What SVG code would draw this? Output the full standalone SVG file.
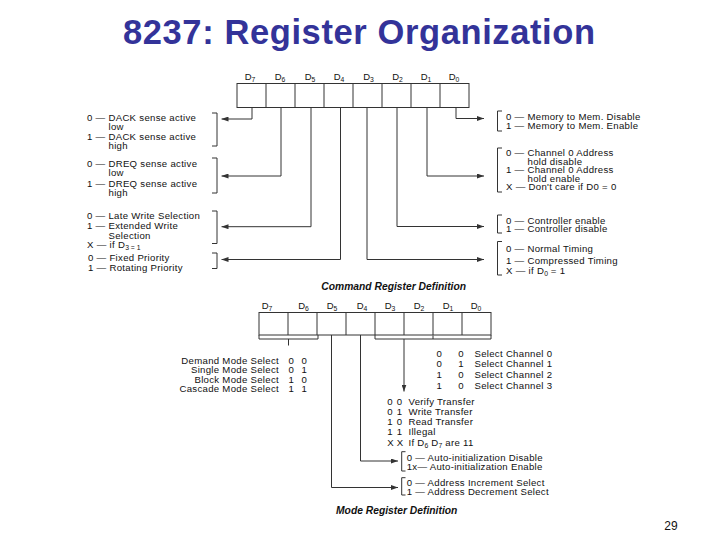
<svg xmlns="http://www.w3.org/2000/svg" width="720" height="540" viewBox="0 0 720 540">
<style>
.t{font-family:"Liberation Sans",Arial,Helvetica,sans-serif;font-size:9.6px;letter-spacing:0.3px;fill:#111}
.lab{font-family:"Liberation Sans",Arial,Helvetica,sans-serif;font-size:9.5px;fill:#111;text-anchor:middle}
.sub{font-size:6.8px;letter-spacing:0}
.cap{font-family:"Liberation Sans",Arial,Helvetica,sans-serif;font-size:10.3px;font-weight:bold;font-style:italic;fill:#111;text-anchor:middle}
.ln{stroke:#333;stroke-width:1;fill:none}
.reg{stroke:#333;stroke-width:1;fill:#fff}
.arr{marker-end:url(#ah)}
</style>
<defs>
<marker id="ah" markerUnits="userSpaceOnUse" markerWidth="7" markerHeight="5" refX="7" refY="2.5" orient="auto">
<path d="M0,0 L7,2.5 L0,5 z" fill="#333"/>
</marker>
</defs>
<rect width="720" height="540" fill="#fff"/>

<text x="359" y="44.3" text-anchor="middle" font-family="'Liberation Sans',Arial,sans-serif" font-size="34.5" font-weight="bold" fill="#333399" textLength="472" lengthAdjust="spacing">8237: Register Organization</text>

<g id="command-register">
<rect class="reg" x="237" y="83.5" width="232" height="24"/>
<path class="ln" d="M266,83.5V107.5M295,83.5V107.5M324,83.5V107.5M353,83.5V107.5M382,83.5V107.5M411,83.5V107.5M440,83.5V107.5"/>
<text class="lab" x="250" y="80">D<tspan class="sub" dy="2">7</tspan></text>
<text class="lab" x="280" y="80">D<tspan class="sub" dy="2">6</tspan></text>
<text class="lab" x="310" y="80">D<tspan class="sub" dy="2">5</tspan></text>
<text class="lab" x="339" y="80">D<tspan class="sub" dy="2">4</tspan></text>
<text class="lab" x="368.5" y="80">D<tspan class="sub" dy="2">3</tspan></text>
<text class="lab" x="397.5" y="80">D<tspan class="sub" dy="2">2</tspan></text>
<text class="lab" x="426" y="80">D<tspan class="sub" dy="2">1</tspan></text>
<text class="lab" x="454" y="80">D<tspan class="sub" dy="2">0</tspan></text>
</g>

<g id="dack">
<path class="ln" d="M212,113H217V146H212"/>
<text class="t" x="87" y="120.5">0 — DACK sense active</text>
<text class="t" x="108.5" y="129.5">low</text>
<text class="t" x="87" y="140">1 — DACK sense active</text>
<text class="t" x="108.5" y="148.5">high</text>
</g>
<g id="dreq">
<path class="ln" d="M212,158H217V193H212"/>
<text class="t" x="87" y="167">0 — DREQ sense active</text>
<text class="t" x="108.5" y="175.5">low</text>
<text class="t" x="87" y="187">1 — DREQ sense active</text>
<text class="t" x="108.5" y="195.5">high</text>
</g>
<g id="write">
<path class="ln" d="M212,211H217V243.5H212"/>
<text class="t" x="87" y="218.5">0 — Late Write Selection</text>
<text class="t" x="87" y="228.5">1 — Extended Write</text>
<text class="t" x="108.5" y="238.5">Selection</text>
<text class="t" x="87" y="247.5">X — if D<tspan class="sub" dy="2">3 = 1</tspan></text>
</g>
<g id="priority">
<path class="ln" d="M212,253H217V268.5H212"/>
<text class="t" x="88" y="261">0 — Fixed Priority</text>
<text class="t" x="88" y="271">1 — Rotating Priority</text>
</g>

<g id="memtomem">
<path class="ln" d="M502,111H497.5V131H502"/>
<text class="t" x="506" y="120">0 — Memory to Mem. Disable</text>
<text class="t" x="506" y="128.5">1 — Memory to Mem. Enable</text>
</g>
<g id="channel0">
<path class="ln" d="M502,148H497.5V192H502"/>
<text class="t" x="506" y="156">0 — Channel 0 Address</text>
<text class="t" x="527.5" y="164.5">hold disable</text>
<text class="t" x="506" y="173">1 — Channel 0 Address</text>
<text class="t" x="527.5" y="181.5">hold enable</text>
<text class="t" x="506" y="190">X — Don't care if D0 = 0</text>
</g>
<g id="controller">
<path class="ln" d="M502,215H497.5V233H502"/>
<text class="t" x="506" y="223.5">0 — Controller enable</text>
<text class="t" x="506" y="232">1 — Controller disable</text>
</g>
<g id="timing">
<path class="ln" d="M502,241.5H497.5V275H502"/>
<text class="t" x="506" y="252">0 — Normal Timing</text>
<text class="t" x="506" y="263.5">1 — Compressed Timing</text>
<text class="t" x="506" y="274">X — if D<tspan class="sub" dy="2">0</tspan><tspan dy="-2"> = 1</tspan></text>
</g>

<text class="cap" x="393.7" y="290">Command Register Definition</text>

<g id="mode-register">
<rect class="reg" x="259" y="312.5" width="232" height="22.5"/>
<path class="ln" d="M288,312.5V335M317,312.5V335M346,312.5V335M375,312.5V335M404,312.5V335M433,312.5V335M462,312.5V335"/>
<text class="lab" x="267" y="308.5">D<tspan class="sub" dy="2">7</tspan></text>
<text class="lab" x="303.5" y="308.5">D<tspan class="sub" dy="2">6</tspan></text>
<text class="lab" x="332" y="308.5">D<tspan class="sub" dy="2">5</tspan></text>
<text class="lab" x="362" y="308.5">D<tspan class="sub" dy="2">4</tspan></text>
<text class="lab" x="390" y="308.5">D<tspan class="sub" dy="2">3</tspan></text>
<text class="lab" x="419" y="308.5">D<tspan class="sub" dy="2">2</tspan></text>
<text class="lab" x="448" y="308.5">D<tspan class="sub" dy="2">1</tspan></text>
<text class="lab" x="476" y="308.5">D<tspan class="sub" dy="2">0</tspan></text>
</g>

<g id="mode-select">
<text class="t" y="363.5"><tspan x="279" text-anchor="end">Demand Mode Select</tspan><tspan x="285.5"> 0</tspan><tspan x="298.5"> 0</tspan></text>
<text class="t" y="373"><tspan x="279" text-anchor="end">Single Mode Select</tspan><tspan x="285.5"> 0</tspan><tspan x="298.5"> 1</tspan></text>
<text class="t" y="382.5"><tspan x="279" text-anchor="end">Block Mode Select</tspan><tspan x="285.5"> 1</tspan><tspan x="298.5"> 0</tspan></text>
<text class="t" y="392"><tspan x="279" text-anchor="end">Cascade Mode Select</tspan><tspan x="285.5"> 1</tspan><tspan x="298.5"> 1</tspan></text>
</g>

<g id="channel-select">
<text class="t" y="356.5"><tspan x="436.5">0</tspan><tspan x="455.4"> 0</tspan><tspan x="471.5"> Select Channel 0</tspan></text>
<text class="t" y="367.3"><tspan x="436.5">0</tspan><tspan x="455.4"> 1</tspan><tspan x="471.5"> Select Channel 1</tspan></text>
<text class="t" y="378"><tspan x="436.5">1</tspan><tspan x="455.4"> 0</tspan><tspan x="471.5"> Select Channel 2</tspan></text>
<text class="t" y="388.8"><tspan x="436.5">1</tspan><tspan x="455.4"> 0</tspan><tspan x="471.5"> Select Channel 3</tspan></text>
</g>

<g id="transfer">
<text class="t" y="404.5"><tspan x="387.3">0</tspan><tspan x="393.8"> 0</tspan><tspan x="405.5"> Verify Transfer</tspan></text>
<text class="t" y="414.7"><tspan x="387.3">0</tspan><tspan x="393.8"> 1</tspan><tspan x="405.5"> Write Transfer</tspan></text>
<text class="t" y="425"><tspan x="387.3">1</tspan><tspan x="393.8"> 0</tspan><tspan x="405.5"> Read Transfer</tspan></text>
<text class="t" y="435.2"><tspan x="387.3">1</tspan><tspan x="393.8"> 1</tspan><tspan x="405.5"> Illegal</tspan></text>
<text class="t" y="445.5"><tspan x="387.3">X</tspan><tspan x="393.8"> X</tspan><tspan x="405.5"> If D</tspan><tspan class="sub" dy="2">6</tspan><tspan dy="-2"> D</tspan><tspan class="sub" dy="2">7</tspan><tspan dy="-2"> are 11</tspan></text>
</g>

<g id="autoinit">
<path class="ln" d="M405.5,451.7H401.7V471H405.5"/>
<text class="t" x="406.7" y="461.2">0 — Auto-initialization Disable</text>
<text class="t" x="406.7" y="469.7">1x— Auto-initialization Enable</text>
</g>
<g id="address">
<path class="ln" d="M405.5,477.7H401.7V495H405.5"/>
<text class="t" x="406.7" y="486.2">0 — Address Increment Select</text>
<text class="t" x="406.7" y="494.7">1 — Address Decrement Select</text>
</g>

<text class="cap" x="396.7" y="513.5">Mode Register Definition</text>

<g id="connectors">
<path class="ln arr" d="M252,107.5V119H221.5"/>
<path class="ln arr" d="M281,107.5V176H221.5"/>
<path class="ln arr" d="M311,107.5V226.7H221.5"/>
<path class="ln arr" d="M340.5,107.5V259.5H221.5"/>
<path class="ln arr" d="M367,107.5V259.5H484"/>
<path class="ln arr" d="M397,107.5V226.5H484"/>
<path class="ln arr" d="M427,107.5V176H484"/>
<path class="ln arr" d="M456,107.5V118.5H484"/>
<path class="ln" d="M259,335V339H318V335M288.5,339V345.5"/>
<path class="ln" d="M375,335V339H491V335M433,339V335.5"/>
<path class="ln arr" d="M404,339V391.5"/>
<path class="ln arr" d="M360.5,335V461H398"/>
<path class="ln arr" d="M331.5,335V487.5H398"/>
</g>

<text x="671" y="530" text-anchor="middle" font-family="'Liberation Sans',Arial,sans-serif" font-size="12" fill="#111">29</text>
</svg>
